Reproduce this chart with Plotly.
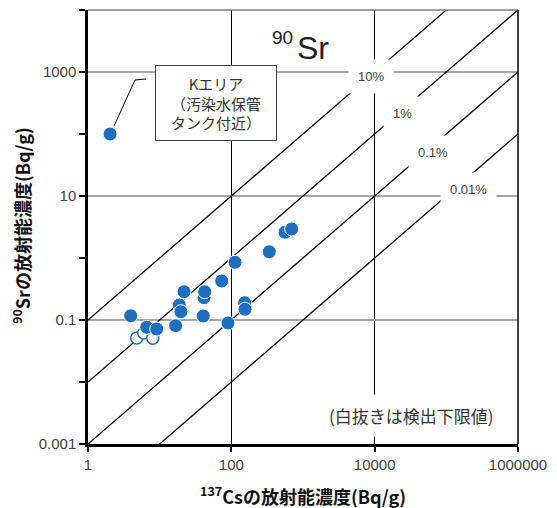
import plotly.graph_objects as go

# ---- data ----
cs_detected = [3.94, 6.6, 9.1, 16.7, 18.8, 19.8, 21.9, 40.6, 41.6, 42.5, 73.4, 89.8,
               112.5, 153.6, 155.2, 338.5, 561, 695]
sr_detected = [0.117, 0.0762, 0.0716, 0.081, 0.175, 0.136, 0.286, 0.116, 0.229, 0.286,
               0.426, 0.0895, 0.853, 0.19, 0.149, 1.26, 2.6, 2.94]
cs_k_area = [2.03]
sr_k_area = [100]
cs_below_limit = [4.78, 6.0, 8.0]
sr_below_limit = [0.0513, 0.0617, 0.0507]

ratios = [0.1, 0.01, 0.001, 0.0001]
ratio_labels = ["10%", "1%", "0.1%", "0.01%"]

x_tickvals = [1, 100, 10000, 1000000]
x_ticktext = ["1", "100", "10000", "1000000"]
y_tickvals = [0.001, 0.1, 10, 1000, 10000]
y_ticktext = ["0.001", "0.1", "10", "1000", ""]
y_minor = [0.01, 1, 100]

BLUE = "#1f6fbf"
JP = "Noto Sans CJK JP"

fig = go.Figure()

# ratio lines
for r in ratios:
    fig.add_trace(go.Scatter(x=[1, 1e6], y=[r * 1, r * 1e6], mode="lines",
                             line=dict(color="black", width=1.3),
                             hoverinfo="skip", showlegend=False))

# open markers (below detection limit)
fig.add_trace(go.Scatter(x=cs_below_limit, y=sr_below_limit, mode="markers",
                         marker=dict(size=12, color="white", symbol="circle",
                                     line=dict(color=BLUE, width=1.5)),
                         showlegend=False))
# detected
fig.add_trace(go.Scatter(x=cs_detected, y=sr_detected, mode="markers",
                         marker=dict(size=14, color=BLUE,
                                     line=dict(color="white", width=1)),
                         showlegend=False))
fig.add_trace(go.Scatter(x=cs_k_area, y=sr_k_area, mode="markers",
                         marker=dict(size=14, color=BLUE,
                                     line=dict(color="white", width=1)),
                         showlegend=False))

# helper: pixel -> paper
L, R, T, B = 88, 518, 10, 444
def px(x):
    return (x - L) / (R - L)
def py(y):
    return (B - y) / (B - T)

shapes = [
    dict(type="line", xref="paper", yref="paper", x0=0, x1=1, y0=1, y1=1,
         line=dict(color="#7f7f7f", width=1.5)),
    dict(type="line", xref="paper", yref="paper", x0=1, x1=1, y0=0, y1=1,
         line=dict(color="black", width=1.5)),
    # leader line of the K-area callout
    dict(type="line", xref="paper", yref="paper", x0=px(114), y0=py(126),
         x1=px(135), y1=py(80), line=dict(color="black", width=1)),
    dict(type="line", xref="paper", yref="paper", x0=px(135), y0=py(80),
         x1=px(146), y1=py(79), line=dict(color="black", width=1)),
]

C = dict(xref="paper", yref="paper", xanchor="center", yanchor="middle", showarrow=False)

annotations = []
label_pos = [(371, 76), (402, 113), (433, 153), (468, 189)]
for lab, (ax_, ay_) in zip(ratio_labels, label_pos):
    annotations.append(dict(x=px(ax_), y=py(ay_), text=lab, bgcolor="white",
                            borderpad=9, font=dict(family="Liberation Sans", size=13,
                                                   color="#404040"), **C))

annotations += [
    dict(x=px(282), y=py(37), text="90",
         font=dict(family="Liberation Sans", size=19, color="#222"), **C),
    dict(x=px(313), y=py(48), text="Sr",
         font=dict(family="Liberation Sans", size=32, color="#222"), **C),
    dict(x=px(215.5), y=py(103),
         text="Kエリア<br>（汚染水保管<br>タンク付近）",
         bgcolor="white", bordercolor="#404040", borderwidth=1, borderpad=1,
         width=118, height=72,
         font=dict(family=JP, size=15, color="#333"), **C),
    dict(x=px(411), y=py(415),
         text="(白抜きは検出下限値)", bgcolor="white", borderpad=8,
         font=dict(family=JP, size=17, color="#333"), **C),
    dict(x=px(303), y=py(495),
         text="<b><sup>137</sup>Csの放射能濃度(Bq/g)</b>",
         font=dict(family=JP, size=18, color="#111"), **C),
    dict(x=px(21), y=py(226), textangle=-90,
         text="<b><sup>90</sup>Srの放射能濃度(Bq/g)</b>",
         font=dict(family=JP, size=18, color="#111"), **C),
]

fig.update_layout(
    width=557, height=508,
    margin=dict(l=L, r=557 - R, t=T, b=508 - B),
    paper_bgcolor="white", plot_bgcolor="white",
    showlegend=False,
    shapes=shapes, annotations=annotations,
    xaxis=dict(type="log", range=[0, 6], tickmode="array",
               tickvals=x_tickvals, ticktext=x_ticktext,
               ticks="outside", ticklen=5, tickcolor="black", tickwidth=1.5,
               showgrid=True, gridcolor="black", gridwidth=1,
               showline=True, linecolor="black", linewidth=2.5,
               zeroline=False,
               tickfont=dict(family="Liberation Sans", size=15, color="#404040")),
    yaxis=dict(type="log", range=[-3, 4], tickmode="array",
               tickvals=y_tickvals, ticktext=y_ticktext,
               ticks="outside", ticklen=6, tickcolor="black", tickwidth=1.5,
               showgrid=True, gridcolor="#a6a6a6", gridwidth=1.5,
               showline=True, linecolor="black", linewidth=2.5,
               zeroline=False,
               minor=dict(tickvals=y_minor, ticks="outside", ticklen=6,
                          tickcolor="black", showgrid=False),
               tickfont=dict(family="Liberation Sans", size=15, color="#404040")),
)

fig.write_html("out.html", config={"displayModeBar": False},
               post_script="document.body.style.margin='0';")
